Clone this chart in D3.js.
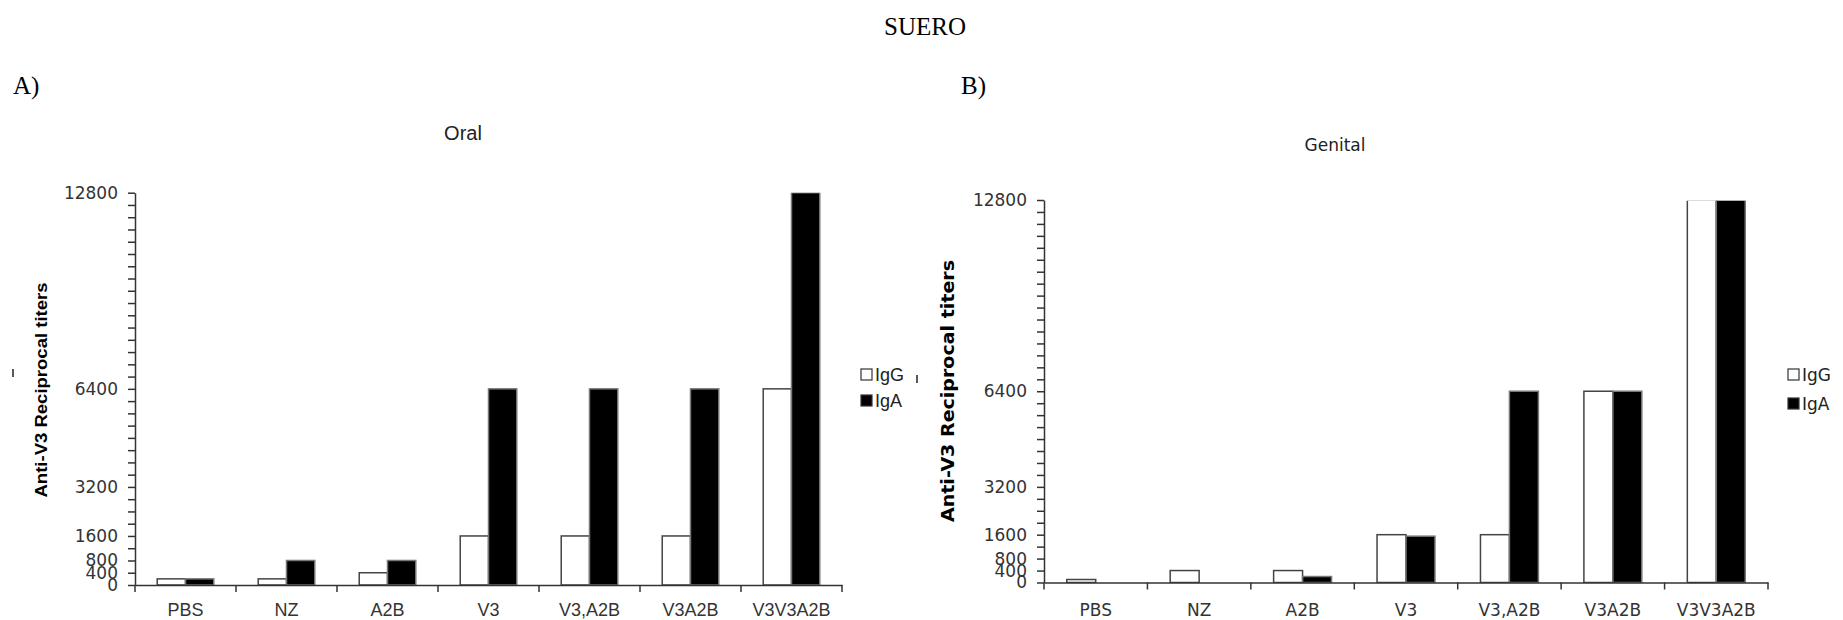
<!DOCTYPE html>
<html>
<head>
<meta charset="utf-8">
<script src="https://cdn.jsdelivr.net/npm/d3@7"></script>
<style>
  body { margin: 0; background: #fff; }
  svg { display: block; }
</style>
</head>
<body>
<svg id="fig" width="1843" height="620"></svg>
<script>
// grupos y series
var categories = ['PBS', 'NZ', 'A2B', 'V3', 'V3,A2B', 'V3A2B', 'V3V3A2B'];
var series = ['IgG', 'IgA'];
var yTicks = [0, 400, 800, 1600, 3200, 6400, 12800];

// A) Oral
var oralIgG = [200, 200, 400, 1600, 1600, 1600, 6400];
var oralIgA = [200, 800, 800, 6400, 6400, 6400, 12800];
// B) Genital
var genitalIgG = [100, 400, 400, 1600, 1600, 6400, 12800];
var genitalIgA = [0, 0, 200, 1550, 6400, 6400, 12800];

var svg = d3.select('#fig');

svg.append('text').attr('x', 925).attr('y', 35)
  .attr('text-anchor', 'middle')
  .style('font-family', '"Liberation Serif", serif').style('font-size', '25px')
  .text('SUERO');

function drawPanel(cfg){
  var g = svg.append('g');

  var x = d3.scaleBand().domain(categories).range([cfg.x0, cfg.x1])
    .paddingInner(0.44).paddingOuter(0.22);
  var xs = d3.scaleBand().domain(series).range([0, x.bandwidth()]);
  var y = d3.scaleLinear().domain([0, 12800]).range([cfg.y0, cfg.yTop]);

  var rows = categories.map(function(c, i){
    return { cat: c, vals: [
      { s: 'IgG', v: cfg.igg[i] },
      { s: 'IgA', v: cfg.iga[i] }
    ]};
  });

  // recorte arriba (barra de V3V3A2B sin borde superior)
  var clipId = 'clip' + cfg.id;
  svg.append('clipPath').attr('id', clipId).append('rect')
    .attr('x', cfg.x0).attr('y', cfg.yTop + (cfg.clipTop || 0))
    .attr('width', cfg.x1 - cfg.x0).attr('height', cfg.y0 - cfg.yTop);

  g.append('g').attr('clip-path', 'url(#' + clipId + ')')
    .selectAll('g.grp').data(rows).enter()
    .append('g').attr('class', 'grp')
    .attr('transform', function(d){ return 'translate(' + x(d.cat) + ',0)'; })
    .selectAll('rect').data(function(d){ return d.vals.filter(function(e){ return e.v > 0; }); })
    .enter().append('rect')
    .attr('x', function(d){ return xs(d.s); })
    .attr('width', xs.bandwidth())
    .attr('y', function(d){ return y(d.v); })
    .attr('height', function(d){ return y(0) - y(d.v); })
    .attr('fill', function(d){ return d.s == 'IgG' ? '#fff' : '#000'; })
    .attr('stroke', function(d){ return d.s == 'IgG' ? '#444' : '#777'; })
    .attr('stroke-width', 1.5);

  // eje Y: marcas cada 400, etiquetas solo en algunas
  var yAxis = d3.axisLeft(y)
    .tickValues(d3.range(0, 12801, 400))
    .tickSize(7).tickSizeOuter(0).tickPadding(10)
    .tickFormat(function(d){ return yTicks.indexOf(d) >= 0 ? d : ''; });
  var ya = g.append('g').attr('transform', 'translate(' + cfg.x0 + ',0)').call(yAxis);
  ya.selectAll('path, line').attr('stroke', '#333').attr('stroke-width', 1.5);
  ya.selectAll('text').attr('fill', '#333')
    .style('font-family', '"DejaVu Sans", Verdana, sans-serif').style('font-size', '17px');

  // eje X
  var xAxis = d3.axisBottom(x).tickSize(0).tickPadding(cfg.xPad);
  var xa = g.append('g').attr('transform', 'translate(0,' + cfg.y0 + ')').call(xAxis);
  xa.select('path').attr('stroke', '#333').attr('stroke-width', 1.5);
  xa.selectAll('text').attr('fill', '#333')
    .style('font-family', cfg.xFont).style('font-size', cfg.xSize);

  var bounds = d3.range(categories.length + 1).map(function(i){ return cfg.x0 + i * x.step(); });
  xa.selectAll('line.bound').data(bounds).enter().append('line').attr('class', 'bound')
    .attr('x1', function(d){ return d; }).attr('x2', function(d){ return d; })
    .attr('y1', 0).attr('y2', 7)
    .attr('stroke', '#333').attr('stroke-width', 1.5);

  // titulos
  svg.append('text').attr('x', cfg.labX).attr('y', 94)
    .style('font-family', '"Liberation Serif", serif').style('font-size', '25px')
    .text(cfg.label);
  svg.append('text').attr('x', cfg.titleX).attr('y', cfg.titleY)
    .attr('text-anchor', 'middle').attr('fill', '#222')
    .style('font-family', cfg.titleFont).style('font-size', cfg.titleSize)
    .text(cfg.title);

  svg.append('text')
    .attr('transform', 'translate(' + cfg.ytX + ',' + cfg.ytY + ') rotate(-90)')
    .attr('text-anchor', 'middle')
    .attr('textLength', cfg.ytLen).attr('lengthAdjust', 'spacingAndGlyphs')
    .style('font-family', cfg.ytFont).style('font-weight', 'bold').style('font-size', cfg.ytSize)
    .text(cfg.ytText);

  // marca suelta a la izquierda
  svg.append('line').attr('x1', cfg.markX).attr('x2', cfg.markX)
    .attr('y1', cfg.markY).attr('y2', cfg.markY + 8)
    .attr('stroke', '#222').attr('stroke-width', 1.5);

  // leyenda
  var leg = svg.append('g').selectAll('g').data(series).enter().append('g')
    .attr('transform', function(d, i){ return 'translate(' + cfg.legX + ',' + (cfg.legY + i * cfg.legGap) + ')'; });
  leg.append('rect').attr('x', 0).attr('y', -6).attr('width', 11).attr('height', 11)
    .attr('fill', function(d){ return d == 'IgG' ? '#fff' : '#000'; })
    .attr('stroke', '#333').attr('stroke-width', 1.2);
  leg.append('text').attr('x', 14).attr('y', 0).attr('dy', '0.36em').attr('fill', '#222')
    .style('font-family', cfg.legFont).style('font-size', cfg.legSize)
    .text(function(d){ return d; });
}

drawPanel({
  id: 'A', igg: oralIgG, iga: oralIgA,
  x0: 135, x1: 842, y0: 585, yTop: 192.7,
  xPad: 18, xFont: '"Liberation Sans", Arial, sans-serif', xSize: '18px',
  label: 'A)', labX: 13,
  title: 'Oral', titleX: 463, titleY: 140, titleFont: '"Liberation Sans", Arial, sans-serif', titleSize: '20px',
  ytText: 'Anti-V3  Reciprocal titers', ytX: 47, ytY: 390, ytLen: 215, ytSize: '16px',
  ytFont: '"Liberation Sans", Arial, sans-serif',
  markX: 13, markY: 369,
  legX: 861, legY: 375, legGap: 26, legFont: '"Liberation Sans", Arial, sans-serif', legSize: '18px'
});

drawPanel({
  id: 'B', igg: genitalIgG, iga: genitalIgA,
  x0: 1044, x1: 1768, y0: 582.5, yTop: 200, clipTop: 0.8,
  xPad: 21, xFont: '"DejaVu Sans", Verdana, sans-serif', xSize: '17px',
  label: 'B)', labX: 961,
  title: 'Genital', titleX: 1335, titleY: 151, titleFont: '"DejaVu Sans", Verdana, sans-serif', titleSize: '17px',
  ytText: 'Anti-V3 Reciprocal titers', ytX: 954, ytY: 391, ytLen: 262, ytSize: '17px',
  ytFont: '"DejaVu Sans", Verdana, sans-serif',
  markX: 917, markY: 375,
  legX: 1788, legY: 375, legGap: 29, legFont: '"DejaVu Sans", Verdana, sans-serif', legSize: '17px'
});
</script>
</body>
</html>
